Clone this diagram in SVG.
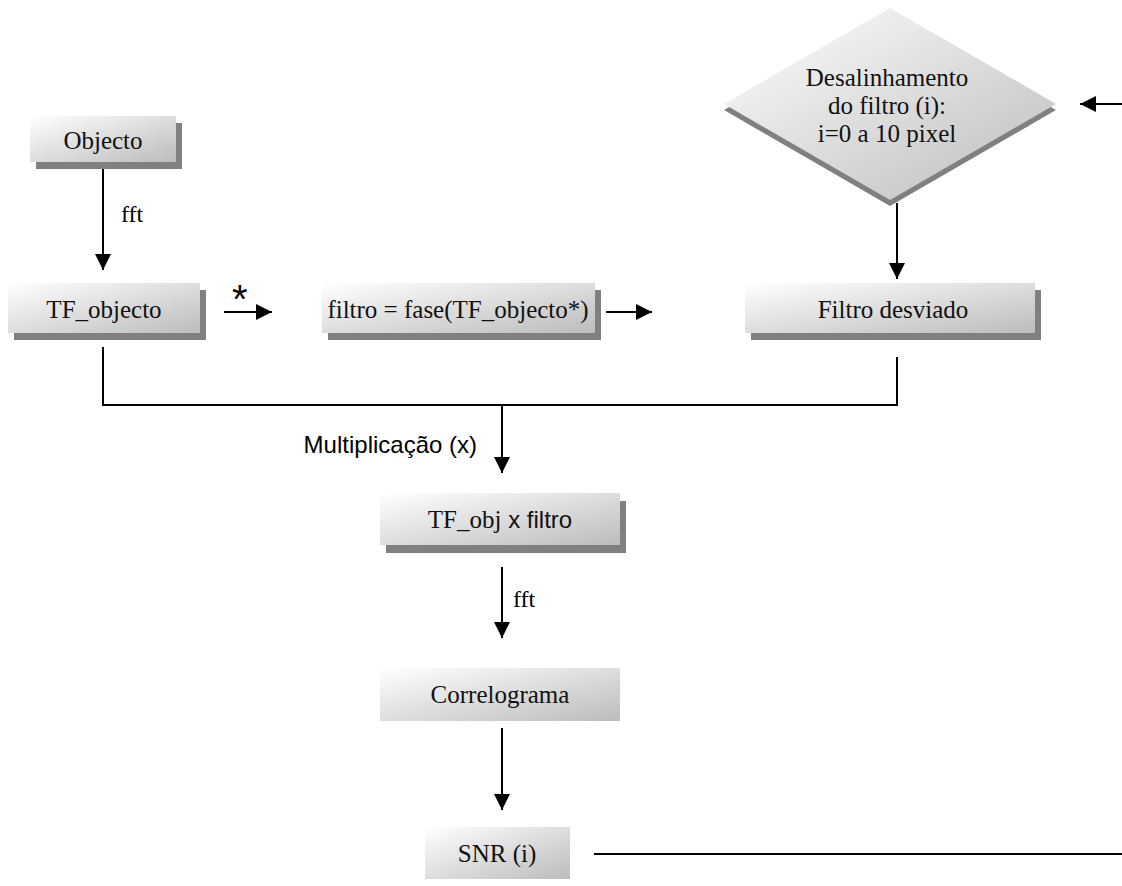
<svg xmlns="http://www.w3.org/2000/svg" width="1122" height="886" viewBox="0 0 1122 886">
<defs>
<linearGradient id="g" x1="0" y1="0" x2="1" y2="1">
<stop offset="0" stop-color="#ffffff"/>
<stop offset="1" stop-color="#bcbcbc"/>
</linearGradient>
<marker id="ah" viewBox="0 0 10 10" refX="10" refY="5" markerWidth="16" markerHeight="16" markerUnits="userSpaceOnUse" orient="auto">
<path d="M0,0 L10,5 L0,10 z" fill="#000"/>
</marker>
</defs>
<style>
.box{fill:url(#g)}
.sh{fill:#808080}
.t{font-family:"Liberation Serif","Times New Roman",serif;font-size:25px;fill:#111;text-anchor:middle}
.lbl{font-family:"Liberation Serif","Times New Roman",serif;font-size:24px;fill:#000}
.sans{font-family:"Liberation Sans",Arial,sans-serif;font-size:24px;fill:#000}
.star{font-family:"Liberation Sans",Arial,sans-serif;font-size:40px;fill:#000}
.c{stroke:#000;stroke-width:2;fill:none}
.a{stroke:#000;stroke-width:2;fill:none;marker-end:url(#ah)}
</style>
<rect width="1122" height="886" fill="#fff"/>

<g id="objecto">
<rect class="sh" x="36" y="123" width="146" height="46"/>
<rect class="box" x="30" y="116" width="146" height="46"/>
<text class="t" x="103" y="149">Objecto</text>
</g>

<g id="tf_objecto">
<rect class="sh" x="14" y="290" width="192" height="50"/>
<rect class="box" x="8" y="283" width="192" height="50"/>
<text class="t" x="104" y="318">TF_objecto</text>
</g>

<g id="filtro">
<rect class="sh" x="328" y="290" width="273" height="50"/>
<rect class="box" x="322" y="283" width="273" height="50"/>
<text class="t" x="458" y="318">filtro = fase(TF_objecto*)</text>
</g>

<g id="filtro_desviado">
<rect class="sh" x="751" y="290" width="290" height="50"/>
<rect class="box" x="745" y="283" width="290" height="50"/>
<text class="t" x="893" y="318">Filtro desviado</text>
</g>

<g id="desalinhamento">
<polygon class="sh" points="890,14 1056,110 890,206 724,110"/>
<polygon class="box" points="890,8 1056,104 890,200 724,104"/>
<text class="t" x="887" y="86">Desalinhamento</text>
<text class="t" x="887" y="114">do filtro (i):</text>
<text class="t" x="887" y="142">i=0 a 10 pixel</text>
</g>

<g id="tf_obj_filtro">
<rect class="sh" x="386" y="501" width="240" height="52"/>
<rect class="box" x="380" y="493" width="240" height="52"/>
<text class="t" x="500" y="528">TF_obj<tspan style="font-family:'Liberation Sans',Arial,sans-serif;font-size:24px"> x filtro</tspan></text>
</g>

<g id="correlograma">
<rect class="box" x="380" y="668" width="240" height="53"/>
<text class="t" x="500" y="703">Correlograma</text>
</g>

<g id="snr">
<rect class="box" x="425" y="827" width="145" height="52"/>
<text class="t" x="497" y="862">SNR (i)</text>
</g>

<g id="connectors">
<line class="a" x1="103" y1="169" x2="103" y2="270"/>
<text class="lbl" x="121" y="222">fft</text>
<line class="a" x1="224" y1="312" x2="272" y2="312"/>
<text class="star" x="232" y="313">*</text>
<line class="a" x1="606" y1="312" x2="652" y2="312"/>
<line class="a" x1="897" y1="203" x2="897" y2="279"/>
<line class="a" x1="1122" y1="104" x2="1080" y2="104"/>
<polyline class="c" points="103,347 103,405 897,405 897,357"/>
<line class="a" x1="502" y1="405" x2="502" y2="473"/>
<text class="sans" x="477" y="453" text-anchor="end">Multiplicação (x)</text>
<line class="a" x1="502" y1="567" x2="502" y2="638"/>
<text class="lbl" x="513" y="607">fft</text>
<line class="a" x1="502" y1="728" x2="502" y2="810"/>
<line class="c" x1="594" y1="854" x2="1122" y2="854"/>
</g>
</svg>
